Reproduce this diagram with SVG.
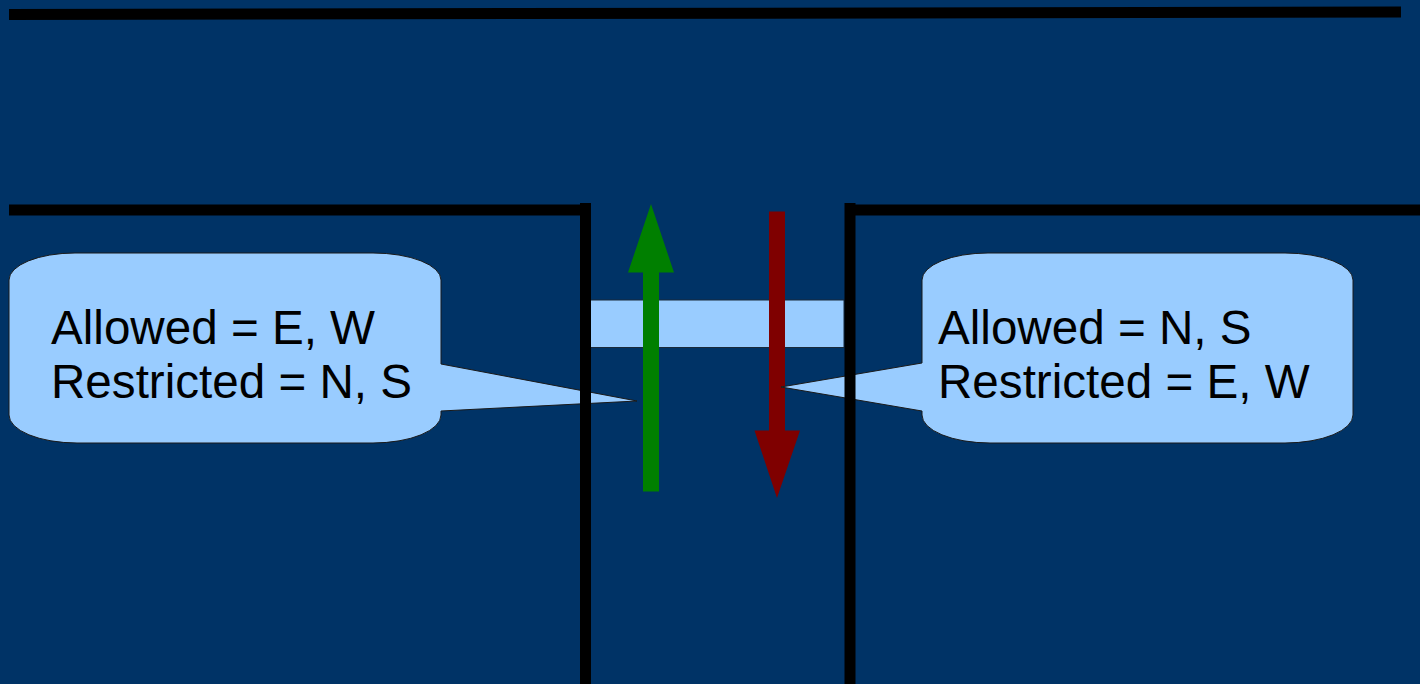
<svg xmlns="http://www.w3.org/2000/svg" width="1420" height="684" viewBox="0 0 1420 684">
<style>
.wall{stroke:#000;stroke-width:11;fill:none;stroke-linecap:butt}
.call{fill:#99ccff;stroke:#1a1a1a;stroke-width:1}
.txt{font-family:"Liberation Sans",Arial,sans-serif;font-size:47.6px;fill:#000}
</style>
<rect width="1420" height="684" fill="#003366"/>
<g id="bar"><rect x="586" y="300" width="258" height="47.5" fill="#99ccff" stroke="#1a2a3a" stroke-width="1"/></g>
<g id="connectors">
<polygon points="643,491.5 659,491.5 659,272.5 674,272.5 651,204 628,272.5 643,272.5" fill="#007f00"/>
<polygon points="769,211.5 785,211.5 785,430.5 800,430.5 777,498 754.5,430.5 769,430.5" fill="#7f0000"/>
</g>
<g id="callout-left">
<path class="call" d="M75,253 L373,253 A68,27 0 0 1 441,280 L441,364 L637,401 L441,411 L441,415 A68,28 0 0 1 373,443 L77,443 A68,28 0 0 1 9,415 L9,280 A66,27 0 0 1 75,253 Z"/>
<text class="txt" x="51" y="344">Allowed = E, W</text>
<text class="txt" x="51" y="398">Restricted = N, S</text>
</g>
<g id="callout-right">
<path class="call" d="M988,253 L1285,253 A68,27 0 0 1 1353,280 L1353,415 A68,28 0 0 1 1285,443 L990,443 A68,28 0 0 1 922,415 L922,411 L781,387 L922,363 L922,280 A66,27 0 0 1 988,253 Z"/>
<text class="txt" x="938" y="344">Allowed = N, S</text>
<text class="txt" x="938" y="398">Restricted = E, W</text>
</g>
<g id="walls">
<line class="wall" x1="9" y1="14.5" x2="1401" y2="12"/>
<line class="wall" x1="9" y1="210" x2="581" y2="210"/>
<line class="wall" x1="585.5" y1="203" x2="585.5" y2="684"/>
<line class="wall" x1="850" y1="203" x2="850" y2="684"/>
<line class="wall" x1="855" y1="210" x2="1420" y2="210"/>
</g>
</svg>
